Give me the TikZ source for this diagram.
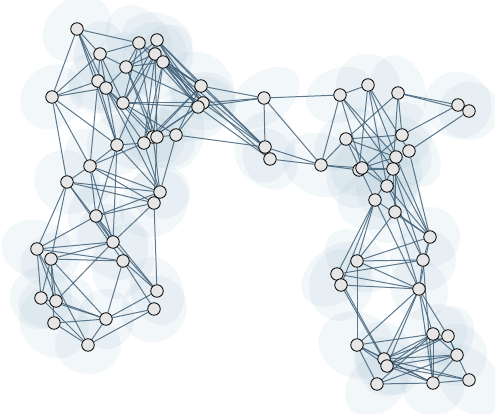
\documentclass[tikz,border=0pt]{standalone}
\pgfdeclarelayer{blobs}
\pgfdeclarelayer{edges}
\pgfsetlayers{blobs,edges,main}
\definecolor{edgecol}{RGB}{66,98,122}
\definecolor{blobcol}{RGB}{165,195,212}
\definecolor{nodefill}{RGB}{230,230,230}
\tikzset{
  vert/.style={circle, draw=black, line width=0.8pt, fill=nodefill, minimum size=12.5pt, inner sep=0pt},
  edge/.style={draw=edgecol, line width=1pt, draw opacity=0.85},
  blob/.style={fill=blobcol, fill opacity=0.14}
}
\begin{document}
\begin{tikzpicture}[x=1pt,y=-1pt]
\useasboundingbox (0,0) rectangle (495,414);

% vertices
\foreach \n/\x/\y in {
  a1/77/29, a2/100/54, a3/139/43, a4/157/40, a5/155/54, a6/163/62, a7/126/67,
  a8/98/81, a9/106/88, a10/52/97, a11/123/103, a12/201/86, a13/203/103, a14/198/107,
  a15/176/135, a16/153/137, a17/157/137, a18/144/143, a19/117/145,
  a20/90/166, a21/67/182, a22/160/192, a23/154/203, a24/96/216, a25/113/242,
  a26/37/249, a27/51/259, a28/123/261, a29/157/291, a30/41/298, a31/56/301,
  a32/154/309, a33/106/319, a34/54/323, a35/88/345,
  b1/264/98, b2/265/147, b3/270/159, b4/321/165,
  c1/340/95, c2/368/85, c3/398/93, c4/458/105, c5/469/111,
  c6/346/139, c7/402/135, c8/409/151, c9/396/157, c11/359/170, c10/362/168, c12/393/169,
  c13/387/186, c14/375/200, c15/395/212, c16/430/237, c17/357/261, c18/423/260,
  c19/337/274, c20/341/285, c21/419/289, c22/357/345, c23/433/334, c24/448/336,
  c25/384/359, c26/387/366, c27/457/355, c28/377/384, c29/433/383, c30/469/380}
  \node[vert] (\n) at (\x,\y) {};

% soft halos around the vertices
\begin{pgfonlayer}{blobs}
\foreach \n [count=\i] in {a1,a2,a3,a4,a5,a6,a7,a8,a9,a10,a11,a12,a13,a14,a15,a16,a17,a18,a19,
  a20,a21,a22,a23,a24,a25,a26,a27,a28,a29,a30,a31,a32,a33,a34,a35,b1,b2,b3,b4,
  c1,c2,c3,c4,c5,c6,c7,c8,c9,c10,c11,c12,c13,c14,c15,c16,c17,c18,c19,c20,
  c21,c22,c23,c24,c25,c26,c27,c28,c29,c30}{
  \pgfmathsetmacro\rx{30+mod(7*\i,11)}
  \pgfmathsetmacro\ry{25+mod(5*\i,9)}
  \pgfmathsetmacro\ang{mod(41*\i,180)}
  \fill[blob, rotate around={\ang:(\n)}] (\n) ellipse [x radius=\rx pt, y radius=\ry pt];
}
\end{pgfonlayer}

% connectors
\begin{pgfonlayer}{edges}
\foreach \u/\v in {
  a1/a2, a1/a3, a1/a10, a1/a8, a1/a19, a1/a9,
  a2/a3, a2/a8, a2/a19, a2/a11, a2/a10, a2/a7,
  a3/a7, a3/a11, a3/a16, a3/a12, a3/a14,
  a4/a7, a4/a12, a4/a13, a4/a14, a4/a18, a4/a11, a4/b2,
  a5/a12, a5/a13, a5/a14, a5/a7, a5/a11, a5/a17, a5/a19, a5/b2,
  a6/a12, a6/a13, a6/a14, a6/a16, a6/a18, a6/a7, a6/b3,
  a7/a13, a7/a16, a7/a9, a7/a17,
  a8/a19, a8/a20, a8/a11,
  a9/a18, a9/a16, a9/a22,
  a10/a8, a10/a9, a10/a19, a10/a20, a10/a21,
  a11/a13, a11/a14, a11/a15, a11/a17,
  a12/a16, a12/a15, a12/b1, a12/a18, a12/b2,
  a13/a18, a13/b1, a13/b2, a14/b1, a14/b3, a14/a15, a14/a16,
  a15/a17, a15/b2, a15/a22,
  a16/a22, a18/a22, a17/a23, a19/a18, a19/a22, a19/a24, a19/a25, a19/a20, a18/a20,
  a20/a21, a20/a22, a20/a23, a20/a24, a20/a25,
  a21/a22, a21/a23, a21/a25, a21/a26, a21/a27, a21/a28,
  a24/a23, a24/a22, a24/a25, a24/a26, a24/a29,
  a25/a23, a25/a26, a25/a27, a25/a31, a25/a29,
  a26/a28, a26/a30, a26/a31, a26/a35,
  a27/a28, a27/a30, a27/a31, a27/a34, a27/a33,
  a28/a33, a28/a29, a28/a32, a23/a29,
  a29/a33, a32/a33, a32/a35, a33/a35, a30/a33, a31/a33, a34/a33, a34/a35, a30/a35,
  b1/b2, b1/b4, b1/c1, b2/b4, b3/b4, b4/c6, c1/b4, b4/c10, b4/c11,
  c1/c2, c1/c10, c1/c12, c1/c9,
  c2/c13, c2/c11, c2/c8, c2/c9,
  c3/c6, c3/c7, c3/c4, c3/c5, c3/c12,
  c4/c7, c5/c8,
  c6/c7, c6/c9, c6/c13, c6/c14,
  c10/c9, c10/c7, c10/c12, c10/c13,
  c11/c12, c12/c14, c12/c15, c9/c15,
  c13/c18, c13/c16, c12/c16, c8/c16, c12/c18, c9/c16,
  c14/c17, c14/c19, c14/c20, c15/c17, c15/c16, c14/c16, c15/c21, c14/c21,
  c17/c16, c17/c18, c17/c21, c19/c18, c20/c21, c19/c21, c16/c18, c18/c21, c16/c21,
  c19/c25, c20/c26, c17/c22, c21/c22, c21/c25, c21/c26, c18/c29, c21/c29, c21/c23, c21/c24,
  c22/c23, c22/c25, c22/c26, c22/c28, c22/c29,
  c25/c23, c26/c23, c25/c24, c26/c24, c25/c27, c26/c27, c25/c29, c26/c30, c25/c30,
  c28/c29, c28/c23, c29/c30, c23/c24, c23/c29, c24/c27, c24/c30, c27/c29, c23/c27,
  c26/c29, c28/c27}
  \draw[edge] (\u) -- (\v);
\end{pgfonlayer}
\end{tikzpicture}
\end{document}
